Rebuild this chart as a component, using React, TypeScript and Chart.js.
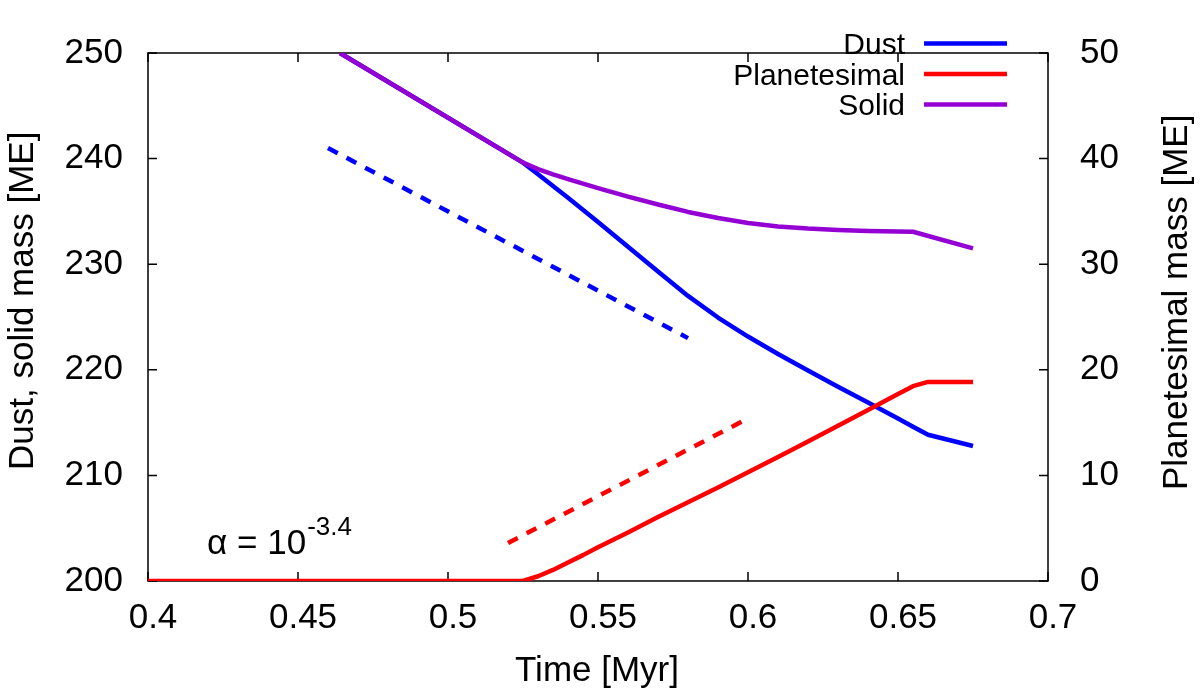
import React, { useEffect, useRef } from "react";
import { Chart, registerables } from "chart.js";

Chart.register(...registerables);

// ---- data ----
const dustTime = [0.464, 0.525, 0.53, 0.54, 0.55, 0.56, 0.57, 0.58, 0.59, 0.6, 0.61, 0.62, 0.63, 0.64, 0.65, 0.655, 0.66, 0.675];
const dustMass = [250, 239.62, 238.52, 236.3, 234.0, 231.65, 229.3, 227.0, 224.95, 223.15, 221.5, 219.93, 218.4, 216.9, 215.38, 214.6, 213.85, 212.78];

const planTime = [0.4, 0.525, 0.53, 0.535, 0.54, 0.545, 0.55, 0.56, 0.57, 0.58, 0.59, 0.6, 0.61, 0.62, 0.63, 0.64, 0.65, 0.655, 0.66, 0.675];
const planMass = [0, 0, 0.45, 1.05, 1.75, 2.45, 3.2, 4.6, 6.05, 7.45, 8.85, 10.3, 11.75, 13.2, 14.7, 16.2, 17.7, 18.45, 18.85, 18.85];

const solidTime = [0.464, 0.525, 0.53, 0.535, 0.54, 0.55, 0.56, 0.57, 0.58, 0.59, 0.6, 0.61, 0.62, 0.63, 0.64, 0.65, 0.655, 0.675];
const solidMass = [250, 239.62, 239.0, 238.5, 238.05, 237.2, 236.4, 235.65, 234.95, 234.37, 233.9, 233.58, 233.38, 233.25, 233.15, 233.1, 233.07, 231.5];

const dustFitTime = [0.46, 0.58];
const dustFitMass = [241, 223];
const planFitTime = [0.52, 0.598];
const planFitMass = [3.6, 15.1];

const xTickValues = [0.4, 0.45, 0.5, 0.55, 0.6, 0.65, 0.7];
const xTickLabels = ["0.4", "0.45", "0.5", "0.55", "0.6", "0.65", "0.7"];
const leftTickValues = [200, 210, 220, 230, 240, 250];
const rightTickValues = [0, 10, 20, 30, 40, 50];

const legendLabels = ["Dust", "Planetesimal", "Solid"];
const seriesColors = ["#0000ff", "#ff0000", "#9400d3"];

const xTitle = "Time [Myr]";
const leftTitle = "Dust, solid mass [ME]";
const rightTitle = "Planetesimal mass [ME]";
const alphaBase = "\u03b1 = 10";
const alphaExp = "-3.4";
const alphaPos = { x: 0.4197, y: 202.6 };

const FONT = '"Liberation Sans", Arial, Helvetica, sans-serif';

const pts = (xs: number[], ys: number[]) => xs.map((x, i) => ({ x, y: ys[i] }));

const framePlugin = {
  id: "frameTicks",
  beforeDatasetsDraw(chart: any) {
    const { ctx, chartArea: a, scales } = chart;
    ctx.save();
    ctx.strokeStyle = "#000";
    ctx.lineWidth = 1.5;
    ctx.strokeRect(a.left, a.top, a.right - a.left, a.bottom - a.top);
    const tl = 9;
    ctx.beginPath();
    xTickValues.forEach((v) => {
      const px = scales.x.getPixelForValue(v);
      ctx.moveTo(px, a.bottom);
      ctx.lineTo(px, a.bottom - tl);
      ctx.moveTo(px, a.top);
      ctx.lineTo(px, a.top + tl);
    });
    leftTickValues.forEach((v) => {
      const py = scales.y.getPixelForValue(v);
      ctx.moveTo(a.left, py);
      ctx.lineTo(a.left + tl, py);
    });
    rightTickValues.forEach((v) => {
      const py = scales.y1.getPixelForValue(v);
      ctx.moveTo(a.right, py);
      ctx.lineTo(a.right - tl, py);
    });
    ctx.stroke();
    ctx.restore();
  },
  afterDraw(chart: any) {
    const { ctx, chartArea: a, scales } = chart;
    ctx.save();
    ctx.fillStyle = "#000";
    // axis titles
    ctx.font = `35px ${FONT}`;
    ctx.textBaseline = "alphabetic";
    ctx.textAlign = "center";
    ctx.fillText(xTitle, (a.left + a.right) / 2 - 1, 681);

    ctx.save();
    ctx.translate(33, 470);
    ctx.rotate(-Math.PI / 2);
    ctx.textAlign = "left";
    ctx.fillText(leftTitle, 0, 0);
    ctx.restore();

    ctx.save();
    ctx.translate(1187, 490);
    ctx.rotate(-Math.PI / 2);
    ctx.textAlign = "left";
    ctx.fillText(rightTitle, 0, 0);
    ctx.restore();

    // alpha annotation
    const ax = scales.x.getPixelForValue(alphaPos.x);
    const ay = scales.y.getPixelForValue(alphaPos.y);
    ctx.textAlign = "left";
    ctx.font = `35px ${FONT}`;
    ctx.fillText(alphaBase, ax, ay);
    const w = ctx.measureText(alphaBase).width;
    ctx.font = `26px ${FONT}`;
    ctx.fillText(alphaExp, ax + w + 1, ay - 19);

    // legend
    ctx.font = `30px ${FONT}`;
    ctx.textAlign = "right";
    legendLabels.forEach((lab, i) => {
      const cy = 43.5 + i * 30.5;
      ctx.fillStyle = "#000";
      ctx.fillText(lab, 905, cy + 10.8);
      ctx.strokeStyle = seriesColors[i];
      ctx.lineWidth = 4.5;
      ctx.beginPath();
      ctx.moveTo(924, cy);
      ctx.lineTo(1007, cy);
      ctx.stroke();
    });
    ctx.restore();
  },
};

export default function App() {
  const ref = useRef<HTMLCanvasElement>(null);
  useEffect(() => {
    if (!ref.current) return;
    const tickFont = { family: FONT, size: 35 };
    const chart = new Chart(ref.current, {
      type: "line",
      data: {
        datasets: [
          {
            label: "Solid",
            data: pts(solidTime, solidMass),
            borderColor: seriesColors[2],
            borderWidth: 4.5,
            yAxisID: "y",
            order: 0,
          },
          {
            label: "Planetesimal",
            data: pts(planTime, planMass),
            borderColor: seriesColors[1],
            borderWidth: 4.5,
            yAxisID: "y1",
            order: 1,
          },
          {
            label: "Dust",
            data: pts(dustTime, dustMass),
            borderColor: seriesColors[0],
            borderWidth: 4.5,
            yAxisID: "y",
            order: 2,
          },
          {
            label: "Dust fit",
            data: pts(dustFitTime, dustFitMass),
            borderColor: seriesColors[0],
            borderWidth: 4.5,
            borderDash: [11, 10],
            yAxisID: "y",
            order: 3,
          },
          {
            label: "Planetesimal fit",
            data: pts(planFitTime, planFitMass),
            borderColor: seriesColors[1],
            borderWidth: 4.5,
            borderDash: [11, 10],
            yAxisID: "y1",
            order: 4,
          },
        ] as any,
      },
      options: {
        animation: false,
        responsive: false,
        maintainAspectRatio: false,
        elements: {
          point: { radius: 0 },
          line: { tension: 0, fill: false, borderCapStyle: "butt", borderJoinStyle: "round" },
        },
        layout: { padding: { top: 19, left: 0, right: 0, bottom: 0 } },
        plugins: { legend: { display: false }, tooltip: { enabled: false } },
        scales: {
          x: {
            type: "linear",
            position: "bottom",
            min: 0.4,
            max: 0.7,
            afterBuildTicks: (s: any) => {
              s.ticks = xTickValues.map((v) => ({ value: v }));
            },
            afterFit: (s: any) => {
              s.height = 116;
            },
            grid: { display: false, drawTicks: false },
            border: { display: false },
            ticks: {
              font: tickFont,
              color: "#000",
              padding: 16,
              labelOffset: 5,
              autoSkip: false,
              maxRotation: 0,
              callback: (_v: any, i: number) => xTickLabels[i],
            },
          },
          y: {
            type: "linear",
            position: "left",
            min: 200,
            max: 250,
            afterBuildTicks: (s: any) => {
              s.ticks = leftTickValues.map((v) => ({ value: v }));
            },
            afterFit: (s: any) => {
              s.width = 148;
            },
            grid: { display: false, drawTicks: false },
            border: { display: false },
            ticks: { font: tickFont, color: "#000", padding: 25, autoSkip: false },
          },
          y1: {
            type: "linear",
            position: "right",
            min: 0,
            max: 50,
            afterBuildTicks: (s: any) => {
              s.ticks = rightTickValues.map((v) => ({ value: v }));
            },
            afterFit: (s: any) => {
              s.width = 152;
            },
            grid: { display: false, drawTicks: false },
            border: { display: false },
            ticks: { font: tickFont, color: "#000", padding: 32, autoSkip: false },
          },
        },
      } as any,
      plugins: [framePlugin],
    });
    return () => chart.destroy();
  }, []);

  return (
    <div style={{ position: "fixed", left: 0, top: 0, width: 1200, height: 697, background: "#fff" }}>
      <canvas ref={ref} width={1200} height={697} style={{ width: 1200, height: 697, display: "block" }} />
    </div>
  );
}
